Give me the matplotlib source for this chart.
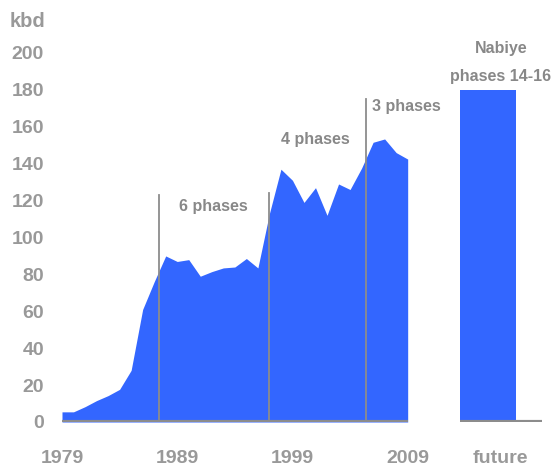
import numpy as np
import matplotlib
matplotlib.use("Agg")
import matplotlib.pyplot as plt

plt.rcParams["font.family"] = ["Liberation Sans", "DejaVu Sans"]
plt.rcParams["font.weight"] = "bold"

# annual production, kbd
years = list(range(1979, 2010))
kbd = [5.5, 5.5, 8.3, 11.6, 14.3, 17.7, 28, 61, 76, 90, 87, 88, 79, 81.5, 83.5,
       84, 88.6, 83.5, 113, 137, 131, 119, 127, 112, 129, 126, 137.6, 151.6,
       153.4, 146, 142.5]

# phase boundaries (year, height of marker)
phase_x = [1987.4, 1997.0, 2005.4]
phase_top = [123, 124, 175]
phase_labels = ["6 phases", "4 phases", "3 phases"]
phase_label_pos = [(1992.15, 117), (2001.0, 153), (2008.85, 171)]

future_kbd = 180
future_label = "Nabiye\nphases 14-16"
year_ticks = [1979, 1989, 1999, 2009]
y_ticks = list(range(0, 201, 20))

BLUE = "#3366ff"
GRAY = "#999999"
DARK = "#888888"
LINE = "#8c8c8c"

fig = plt.figure(figsize=(5.54, 4.68), dpi=100)
ax = fig.add_axes([0.1119, 0.0983, 0.624, 0.7885])
ax2 = fig.add_axes([0.8298, 0.0983, 0.1486, 0.7885])

ax.fill_between(years, kbd, 0, color=BLUE, lw=0, zorder=1)
ax.axhline(0, color=LINE, lw=3, zorder=3)
for x, top in zip(phase_x, phase_top):
    ax.plot([x, x], [0, top], color=LINE, lw=1.3, zorder=2)
for lab, (x, y) in zip(phase_labels, phase_label_pos):
    ax.text(x, y, lab, ha="center", va="center", fontsize=11.5, color=DARK)

ax.set_xlim(1979, 2009)
ax.set_ylim(0, 200)
ax.set_xticks(year_ticks)
ax.set_xticklabels([str(y) for y in year_ticks])
ax.set_yticks(y_ticks)
ax.tick_params(axis="x", length=0, pad=20, labelsize=14, labelcolor=GRAY)
ax.tick_params(axis="y", length=0, pad=13, labelsize=14, labelcolor=GRAY)
ax.text(-0.152, 1.085, "kbd", transform=ax.transAxes, ha="left", va="center",
        fontsize=14.5, color=GRAY)

ax2.bar(0, future_kbd, width=0.68, align="edge", color=BLUE, lw=0, zorder=1)
ax2.axhline(0, color=LINE, lw=3, zorder=3)
ax2.set_xlim(0, 1)
ax2.set_ylim(0, 200)
ax2.set_xticks([0.5])
ax2.set_xticklabels(["future"])
ax2.set_yticks([])
ax2.tick_params(axis="x", length=0, pad=20, labelsize=14, labelcolor=GRAY)
ax2.text(0.5, 195, future_label, ha="center", va="center", fontsize=11.5,
         color=DARK, linespacing=2.05, clip_on=False)

for a in (ax, ax2):
    for s in a.spines.values():
        s.set_visible(False)

fig.savefig("out.png", dpi=100)
